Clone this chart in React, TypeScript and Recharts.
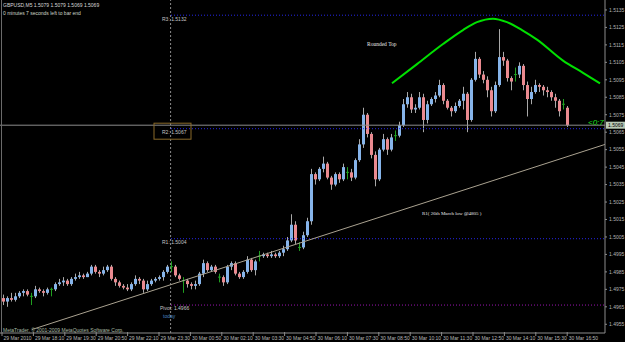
import React from 'react';
import { ComposedChart, Bar, Line, XAxis, YAxis, ReferenceLine, ReferenceDot } from 'recharts';

const W = 625;
const H = 342;

// GBPUSD M5 candles (each mark aggregates ~2 bars)
const candleOpen = [
  1.4970,1.4968,1.4970,1.4969,1.4971,1.4973,1.4974,1.4971,1.4971,1.4975,
  1.4974,1.4973,1.4975,1.4975,1.4978,1.4979,1.4980,1.4978,1.4981,1.4982,
  1.4983,1.4982,1.4984,1.4988,1.4985,1.4984,1.4986,1.4988,1.4981,1.4979,
  1.4977,1.4976,1.4975,1.4978,1.4981,1.4980,1.4975,1.4978,1.4980,1.4981,
  1.4982,1.4985,1.4988,1.4988,1.4983,1.4980,1.4980,1.4978,1.4977,1.4978,
  1.4984,1.4990,1.4986,1.4988,1.4982,1.4982,1.4979,1.4988,1.4990,1.4984,
  1.4982,1.4985,1.4992,1.4986,1.4994,1.4994,1.4995,1.4994,1.4995,1.4994,
  1.4996,1.4998,1.5003,1.5012,1.4999,1.4999,1.5006,1.5014,1.5041,1.5038,
  1.5044,1.5047,1.5039,1.5035,1.5041,1.5038,1.5042,1.5042,1.5039,1.5049,
  1.5058,1.5075,1.5064,1.5052,1.5038,1.5055,1.5061,1.5055,1.5063,1.5063,
  1.5069,1.5081,1.5085,1.5078,1.5079,1.5085,1.5072,1.5081,1.5084,1.5086,
  1.5092,1.5083,1.5079,1.5077,1.5080,1.5083,1.5087,1.5072,1.5095,1.5107,
  1.5098,1.5095,1.5089,1.5077,1.5092,1.5108,1.5106,1.5096,1.5098,1.5098,
  1.5103,1.5092,1.5084,1.5088,1.5092,1.5091,1.5089,1.5088,1.5085,1.5083,
  1.5081,1.5079,
];
const candleHigh = [
  1.4972,1.4971,1.4973,1.4973,1.4974,1.4975,1.4975,1.4973,1.4977,1.4976,
  1.4975,1.4976,1.4976,1.4979,1.4981,1.4982,1.4981,1.4982,1.4984,1.4985,
  1.4984,1.4985,1.4989,1.4989,1.4986,1.4988,1.4989,1.4989,1.4982,1.4980,
  1.4978,1.4978,1.4979,1.4983,1.4982,1.4981,1.4980,1.4981,1.4982,1.4983,
  1.4986,1.4989,1.4991,1.4989,1.4984,1.4982,1.4981,1.4979,1.4980,1.4985,
  1.4992,1.4991,1.4989,1.4989,1.4984,1.4983,1.4989,1.4991,1.4991,1.4985,
  1.4986,1.4994,1.4993,1.4992,1.4997,1.4996,1.4996,1.4997,1.4996,1.4997,
  1.5000,1.5005,1.5018,1.5014,1.5002,1.5008,1.5016,1.5044,1.5042,1.5045,
  1.5051,1.5048,1.5040,1.5042,1.5042,1.5047,1.5045,1.5044,1.5050,1.5061,
  1.5079,1.5076,1.5065,1.5054,1.5056,1.5064,1.5062,1.5064,1.5066,1.5071,
  1.5084,1.5088,1.5087,1.5081,1.5088,1.5087,1.5083,1.5085,1.5088,1.5095,
  1.5093,1.5084,1.5080,1.5082,1.5084,1.5091,1.5088,1.5096,1.5111,1.5108,
  1.5100,1.5097,1.5091,1.5094,1.5124,1.5111,1.5107,1.5097,1.5102,1.5105,
  1.5104,1.5094,1.5091,1.5095,1.5093,1.5092,1.5091,1.5089,1.5087,1.5084,
  1.5084,1.5080,
];
const candleLow = [
  1.4966,1.4965,1.4968,1.4968,1.4970,1.4971,1.4971,1.4966,1.4970,1.4973,
  1.4971,1.4972,1.4971,1.4974,1.4977,1.4977,1.4977,1.4977,1.4980,1.4981,
  1.4981,1.4982,1.4983,1.4984,1.4982,1.4983,1.4985,1.4980,1.4977,1.4976,
  1.4975,1.4974,1.4974,1.4977,1.4978,1.4973,1.4974,1.4977,1.4979,1.4980,
  1.4980,1.4984,1.4985,1.4982,1.4980,1.4973,1.4976,1.4975,1.4975,1.4977,
  1.4982,1.4985,1.4985,1.4984,1.4979,1.4977,1.4978,1.4986,1.4983,1.4981,
  1.4981,1.4984,1.4985,1.4983,1.4991,1.4993,1.4993,1.4993,1.4993,1.4993,
  1.4994,1.4997,1.5002,1.5001,1.4997,1.4998,1.5005,1.5012,1.5035,1.5037,
  1.5042,1.5038,1.5032,1.5034,1.5036,1.5037,1.5038,1.5037,1.5038,1.5048,
  1.5056,1.5062,1.5050,1.5034,1.5037,1.5054,1.5052,1.5054,1.5060,1.5062,
  1.5068,1.5079,1.5076,1.5076,1.5078,1.5065,1.5070,1.5080,1.5082,1.5085,
  1.5081,1.5078,1.5074,1.5076,1.5079,1.5078,1.5065,1.5071,1.5094,1.5096,
  1.5093,1.5085,1.5074,1.5076,1.5091,1.5103,1.5094,1.5089,1.5094,1.5096,
  1.5089,1.5074,1.5081,1.5087,1.5088,1.5086,1.5085,1.5083,1.5079,1.5074,
  1.5078,1.5068,
];
const candleClose = [
  1.4968,1.4970,1.4969,1.4971,1.4973,1.4974,1.4972,1.4971,1.4975,1.4974,
  1.4973,1.4975,1.4975,1.4978,1.4979,1.4980,1.4978,1.4981,1.4982,1.4983,
  1.4982,1.4984,1.4988,1.4985,1.4984,1.4986,1.4988,1.4981,1.4979,1.4977,
  1.4976,1.4975,1.4978,1.4981,1.4980,1.4975,1.4978,1.4980,1.4981,1.4982,
  1.4985,1.4988,1.4988,1.4983,1.4981,1.4980,1.4978,1.4977,1.4978,1.4984,
  1.4990,1.4986,1.4988,1.4985,1.4982,1.4979,1.4988,1.4990,1.4984,1.4982,
  1.4985,1.4992,1.4986,1.4991,1.4994,1.4995,1.4994,1.4995,1.4994,1.4996,
  1.4998,1.5003,1.5012,1.5003,1.4999,1.5006,1.5014,1.5041,1.5038,1.5044,
  1.5047,1.5039,1.5035,1.5041,1.5038,1.5045,1.5042,1.5039,1.5049,1.5058,
  1.5075,1.5064,1.5052,1.5038,1.5055,1.5061,1.5055,1.5062,1.5063,1.5069,
  1.5081,1.5085,1.5078,1.5079,1.5085,1.5072,1.5081,1.5084,1.5086,1.5092,
  1.5083,1.5079,1.5077,1.5080,1.5083,1.5087,1.5072,1.5095,1.5107,1.5098,
  1.5095,1.5089,1.5077,1.5092,1.5108,1.5106,1.5096,1.5094,1.5098,1.5103,
  1.5092,1.5084,1.5088,1.5092,1.5091,1.5089,1.5088,1.5085,1.5083,1.5077,
  1.5081,1.5069,
];

const xTickLabels = [
  '29 Mar 2010', '29 Mar 18:10', '29 Mar 19:30', '29 Mar 20:50', '29 Mar 22:10',
  '29 Mar 23:30', '30 Mar 00:50', '30 Mar 02:10', '30 Mar 03:30', '30 Mar 04:50',
  '30 Mar 06:10', '30 Mar 07:30', '30 Mar 08:50', '30 Mar 10:10', '30 Mar 11:30',
  '30 Mar 12:50', '30 Mar 14:10', '30 Mar 15:30', '30 Mar 16:50',
];
const priceTicks = [
  1.4955, 1.4965, 1.4975, 1.4985, 1.4995, 1.5005, 1.5015, 1.5025, 1.5035, 1.5045,
  1.5055, 1.5065, 1.5075, 1.5085, 1.5095, 1.5105, 1.5115, 1.5125, 1.5135,
];

// hand-drawn "rounded top" arc
const arcIdx = [97.25, 103.5, 110, 115, 118.5, 122.5, 126, 129.75, 133.5, 140, 145, 149.25];
const arcPrice = [1.5093, 1.5104, 1.51155, 1.51235, 1.5128, 1.5130, 1.5128, 1.51235, 1.5118, 1.5106, 1.5099, 1.5093];

const pivotR3 = 1.5132;
const pivotR2 = 1.5067;
const pivotR1 = 1.5004;
const pivotP = 1.4966;
const bidPrice = 1.5069;
const trendStartIdx = 7.25;
const trendStartPrice = 1.4952;
const trendEndIdx = 150.5;
const trendEndPrice = 1.5058;
const daySeparatorIdx = 42;

const X_MIN = -0.75;
const X_MAX = 150.5;
const Y_MIN = 1.4950;
const Y_MAX = 1.51407;

const candles = candleOpen.map((o, i) => ({
  i,
  open: o,
  high: candleHigh[i],
  low: candleLow[i],
  close: candleClose[i],
  range: [candleLow[i], candleHigh[i]],
}));
const arcData = arcIdx.map((x, k) => ({ i: x, arc: arcPrice[k] }));
const xTickIdx = xTickLabels.map((_, k) => -0.25 + 7.85 * k);

const BULL = '#86b4ea';
const BEAR = '#ea8a90';
const WICK = '#a8a8a8';
const DOJI = '#1fa01f';
const AXIS = '#8c8c8c';
const TXT = '#c4c4c4';
const SANS = 'Liberation Sans, Arial, sans-serif';
const SERIF = 'Liberation Serif, Times New Roman, serif';

const CandleShape = (props: any) => {
  const { x, y, width, height, payload } = props;
  if (!payload || x == null || y == null) return null;
  const cx = Math.round(x + width / 2);
  const top = Math.min(y, y + height);
  const h = Math.abs(height);
  const { open, close, high, low } = payload;
  const span = high - low || 1e-9;
  const py = (v: number) => top + ((high - v) / span) * h;
  const doji = Math.abs(open - close) < 1e-9;
  if (doji) {
    const yo = py(open);
    return (
      <g>
        <line x1={cx + 0.5} x2={cx + 0.5} y1={top} y2={top + h} stroke={DOJI} strokeWidth={1} />
        <line x1={cx - 1} x2={cx + 2} y1={yo} y2={yo} stroke={DOJI} strokeWidth={1} />
      </g>
    );
  }
  const up = close > open;
  const bTop = py(Math.max(open, close));
  const bBot = py(Math.min(open, close));
  return (
    <g>
      <line x1={cx + 0.5} x2={cx + 0.5} y1={top} y2={top + h} stroke={WICK} strokeWidth={1} />
      <rect x={cx - 1} y={bTop} width={3} height={Math.max(1, bBot - bTop)} fill={up ? BULL : BEAR} />
    </g>
  );
};

const XTick = (props: any) => {
  const { x, y, index, payload } = props;
  const k = payload && payload.index != null ? payload.index : index;
  const label = xTickLabels[k];
  return (
    <g>
      <line x1={x} x2={x} y1={y - 1} y2={y + 3} stroke={AXIS} strokeWidth={1} />
      <text x={x + 1.5} y={y + 7} fontSize={5} fill="#b8b8b8" fontFamily={SANS}>{label}</text>
    </g>
  );
};

const textShape = (text: string, dx: number, dy: number, fill: string, size: number, family: string, extra: any = {}) =>
  (p: any) => (
    <text x={p.cx + dx} y={p.cy + dy} fontSize={size} fill={fill} fontFamily={family} {...extra}>{text}</text>
  );

const r2Shape = (p: any) => (
  <g>
    <rect x={p.cx - 17} y={p.cy - 5.5} width={37} height={16} fill="none" stroke="#8a6a2a" strokeWidth={1} />
    <text x={p.cx - 9} y={p.cy + 5.5} fontSize={5} fill={TXT} fontFamily={SANS}>R2: 1.5067</text>
  </g>
);

const pivotShape = (p: any) => (
  <g>
    <text x={p.cx - 11} y={p.cy + 5} fontSize={5} fill={TXT} fontFamily={SANS}>Pivot: 1.4966</text>
    <text x={p.cx - 8} y={p.cy + 13} fontSize={5} fill="#4a86c0" fontFamily={SANS}>today</text>
  </g>
);

const bidTag = (props: any) => {
  const vb = props.viewBox || {};
  const rx = (vb.x || 0) + (vb.width || 0) + 1;
  const cy = vb.y || 0;
  return (
    <g>
      <rect x={rx} y={cy - 3.5} width={19} height={7} fill="#b9c9b6" />
      <text x={rx + 2} y={cy + 2} fontSize={5} fill="#000" fontFamily={SANS}>1.5069</text>
    </g>
  );
};

export default function App() {
  return (
    <div style={{ position: 'absolute', left: 0, top: 0, width: W, height: H, background: '#000' }}>
      <ComposedChart
        width={W}
        height={H}
        data={candles}
        margin={{ top: 0, right: 0, bottom: 0, left: 0 }}
        style={{ background: '#000' }}
      >
        <XAxis
          type="number"
          dataKey="i"
          domain={[X_MIN, X_MAX]}
          allowDataOverflow
          ticks={xTickIdx}
          interval={0}
          height={9}
          tickLine={false}
          tickSize={0}
          tickMargin={0}
          tick={<XTick />}
          axisLine={{ stroke: AXIS }}
        />
        <YAxis
          orientation="right"
          type="number"
          domain={[Y_MIN, Y_MAX]}
          allowDataOverflow
          ticks={priceTicks}
          interval={0}
          width={20}
          tickSize={2}
          tickMargin={2}
          tick={{ fill: '#b4b4b4', fontSize: 5, fontFamily: SANS }}
          tickFormatter={(v: number) => v.toFixed(4)}
          axisLine={{ stroke: AXIS }}
          tickLine={{ stroke: AXIS }}
        />

        <ReferenceLine x={daySeparatorIdx - 0.1} stroke="#8a8a8a" strokeDasharray="2 2" ifOverflow="visible" />
        <ReferenceLine
          segment={[{ x: daySeparatorIdx, y: pivotR3 }, { x: X_MAX, y: pivotR3 }]}
          stroke="#2626e6" strokeDasharray="1 2" ifOverflow="visible"
        />
        <ReferenceLine
          segment={[{ x: daySeparatorIdx, y: pivotR2 }, { x: X_MAX, y: pivotR2 }]}
          stroke="#2626e6" strokeDasharray="1 2" ifOverflow="visible"
        />
        <ReferenceLine
          segment={[{ x: daySeparatorIdx, y: pivotR1 }, { x: X_MAX, y: pivotR1 }]}
          stroke="#2626e6" strokeDasharray="1 2" ifOverflow="visible"
        />
        <ReferenceLine
          segment={[{ x: daySeparatorIdx, y: pivotP }, { x: X_MAX, y: pivotP }]}
          stroke="#9a14b0" strokeDasharray="1 2" ifOverflow="visible"
        />
        <ReferenceLine y={bidPrice} stroke="#8c8c8c" strokeWidth={1} label={bidTag} ifOverflow="visible" />
        <ReferenceLine
          segment={[{ x: trendStartIdx, y: trendStartPrice }, { x: trendEndIdx, y: trendEndPrice }]}
          stroke="#aaa290" strokeWidth={1} ifOverflow="visible"
        />

        <Bar dataKey="range" barSize={3} shape={CandleShape} isAnimationActive={false} />

        <Line
          data={arcData}
          dataKey="arc"
          type="monotone"
          stroke="#00e000"
          strokeWidth={2}
          dot={false}
          activeDot={false}
          isAnimationActive={false}
        />

        <ReferenceDot x={daySeparatorIdx} y={pivotR3} r={0} ifOverflow="visible"
          shape={textShape('R3: 1.5132', -9, 6, TXT, 5, SANS)} />
        <ReferenceDot x={daySeparatorIdx} y={pivotR2} r={0} ifOverflow="visible" shape={r2Shape} />
        <ReferenceDot x={daySeparatorIdx} y={pivotR1} r={0} ifOverflow="visible"
          shape={textShape('R1: 1.5004', -9, 5.5, TXT, 5, SANS)} />
        <ReferenceDot x={daySeparatorIdx} y={pivotP} r={0} ifOverflow="visible" shape={pivotShape} />
        <ReferenceDot x={91} y={1.5116} r={0} ifOverflow="visible"
          shape={textShape('Rounded Top', 0, 3, '#e6e6e6', 5.5, SERIF)} />
        <ReferenceDot x={104.75} y={1.5019} r={0} ifOverflow="visible"
          shape={textShape('R1( 26th March low @4805 )', 0, 2, '#e6e6e6', 5, SERIF)} />
        <ReferenceDot x={146.25} y={1.5071} r={0} ifOverflow="visible"
          shape={textShape('<0:7', 0, 3, '#1ee01e', 8, SANS, { fontStyle: 'italic' })} />
      </ComposedChart>
      <svg width={W} height={H} style={{ position: 'absolute', left: 0, top: 0, pointerEvents: 'none' }}>
        <line x1={1.5} x2={1.5} y1={0} y2={333} stroke="#6a6a6a" strokeWidth={1} />
        <text x={3} y={7} fontSize={5} fill="#d8d8d8" fontFamily={SANS}>GBPUSD,M5  1.5079 1.5079 1.5069 1.5069</text>
        <text x={3} y={15} fontSize={5} fill="#d0d8c8" fontFamily={SANS}>0 minutes 7 seconds left to bar end</text>
        <text x={3} y={331.5} fontSize={5} fill="#a9bca4" fontFamily={SANS}>MetaTrader, © 2001-2009 MetaQuotes Software Corp.</text>
      </svg>
    </div>
  );
}
